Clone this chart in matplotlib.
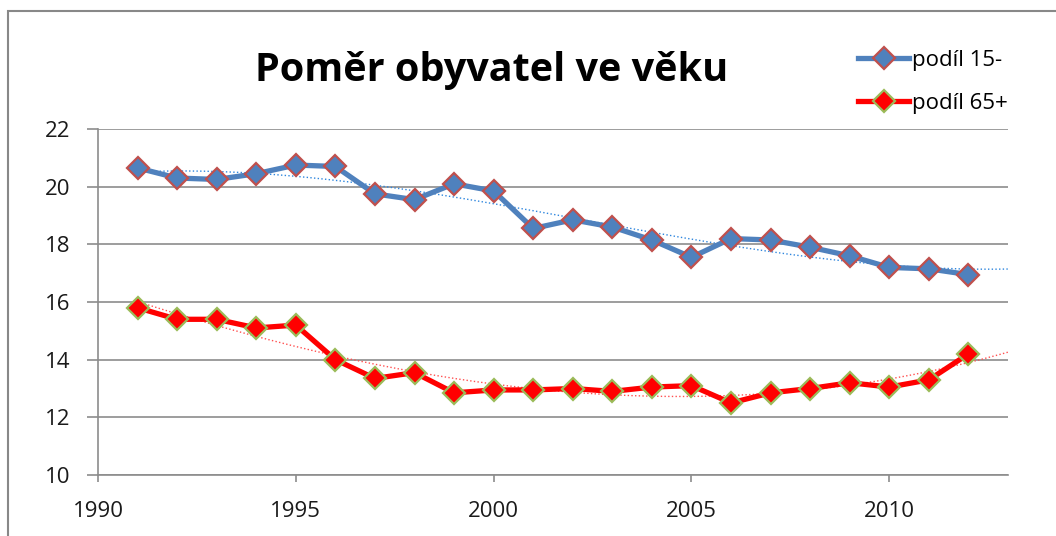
import numpy as np
import matplotlib.pyplot as plt
from matplotlib.patches import Rectangle

# years and shares
years = np.arange(1991, 2013)
share_15 = [20.65, 20.3, 20.25, 20.45, 20.75, 20.7, 19.75, 19.55, 20.1, 19.85, 18.55,
            18.85, 18.6, 18.15, 17.55, 18.2, 18.15, 17.9, 17.6, 17.2, 17.15, 16.95]
share_65 = [15.8, 15.4, 15.4, 15.1, 15.2, 14.0, 13.35, 13.55, 12.85, 12.95, 12.95,
            13.0, 12.9, 13.05, 13.1, 12.5, 12.85, 13.0, 13.2, 13.05, 13.3, 14.2]
x_ticks = [1990, 1995, 2000, 2005, 2010]
y_ticks = [10, 12, 14, 16, 18, 20, 22]

plt.rcParams['font.family'] = ['Open Sans', 'DejaVu Sans']

fig = plt.figure(figsize=(10.56, 5.36), dpi=100)
ax = fig.add_axes([98/1056, 1 - 475/536, (1008 - 98)/1056, (475 - 129)/536])

# chart frame
fig.patches.append(Rectangle((8/1056, -0.1), 1.2, 1.1 - 11/536, transform=fig.transFigure,
                             fill=False, edgecolor='#888888', lw=1.5))

# polynomial trendlines (like Excel)
xt = np.linspace(1991, 2013, 200)
p15 = np.polyfit(years - 2000, share_15, 3)
p65 = np.polyfit(years - 2000, share_65, 3)
ax.plot(xt, np.polyval(p15, xt - 2000), ':', color='#2E86DE', lw=1.0, zorder=2)
ax.plot(xt, np.polyval(p65, xt - 2000), ':', color='#FF5050', lw=1.0, zorder=2)

ax.plot(years, share_15, '-D', color='#4F81BD', lw=3.8, markersize=11.5,
        markerfacecolor='#4F81BD', markeredgecolor='#C0504D', markeredgewidth=1.6,
        label='podíl 15-', zorder=3)
ax.plot(years, share_65, '-D', color='#FF0000', lw=3.8, markersize=11.5,
        markerfacecolor='#FF0000', markeredgecolor='#9BBB59', markeredgewidth=1.6,
        label='podíl 65+', zorder=3)

ax.set_xlim(1990, 2013)
ax.set_ylim(10, 22)
ax.set_xticks(x_ticks)
ax.set_yticks(y_ticks)
ax.grid(axis='y', color='#8C8C8C', lw=1.2)
ax.set_axisbelow(True)
for s in ['top', 'right']:
    ax.spines[s].set_visible(False)
for s in ['left', 'bottom']:
    ax.spines[s].set_color('#8C8C8C')
    ax.spines[s].set_linewidth(1.2)
ax.tick_params(axis='both', colors='#8C8C8C', width=1.2, labelsize=16,
               labelcolor='#1a1a1a')
ax.tick_params(axis='y', length=8, pad=12)
ax.tick_params(axis='x', length=5, pad=14)

fig.text(492/1056, 1 - 70/536, 'Poměr obyvatel ve věku', ha='center', va='center',
         fontsize=28.5, fontweight='bold')

leg = ax.legend(loc='upper left', bbox_to_anchor=(838/1056, 1 - 30/536),
                bbox_transform=fig.transFigure, frameon=False, fontsize=16,
                handlelength=2.3, labelspacing=1.0, handletextpad=0.15)

fig.savefig('out.png', dpi=100)
